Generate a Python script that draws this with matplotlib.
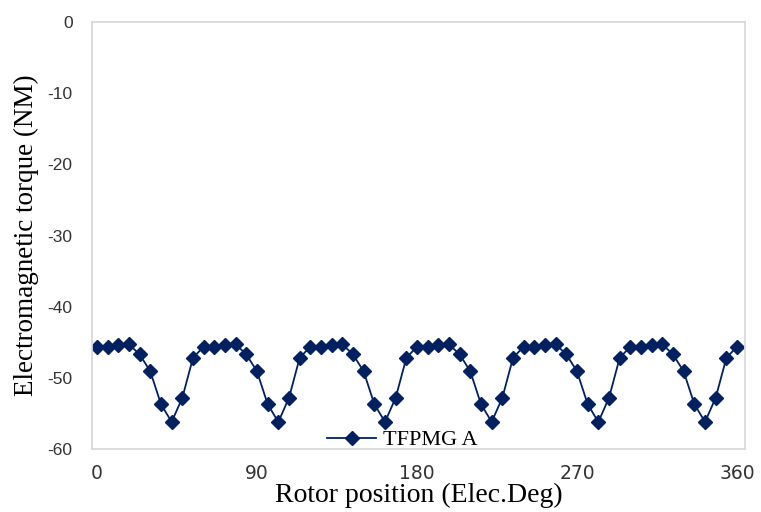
import matplotlib.pyplot as plt

plt.rcParams["axes.unicode_minus"] = False

# rotor position in electrical degrees (step 6)
position = [0, 6, 12, 18, 24, 30, 36, 42, 48, 54,
            60, 66, 72, 78, 84, 90, 96, 102, 108, 114,
            120, 126, 132, 138, 144, 150, 156, 162, 168, 174,
            180, 186, 192, 198, 204, 210, 216, 222, 228, 234,
            240, 246, 252, 258, 264, 270, 276, 282, 288, 294,
            300, 306, 312, 318, 324, 330, 336, 342, 348, 354,
            360]

torque_a = [-45.6, -45.6, -45.4, -45.3, -46.7, -49.1, -53.7, -56.2, -52.8, -47.2,
            -45.6, -45.6, -45.4, -45.3, -46.7, -49.1, -53.7, -56.2, -52.8, -47.2,
            -45.6, -45.6, -45.4, -45.3, -46.7, -49.1, -53.7, -56.2, -52.8, -47.2,
            -45.6, -45.6, -45.4, -45.3, -46.7, -49.1, -53.7, -56.2, -52.8, -47.2,
            -45.6, -45.6, -45.4, -45.3, -46.7, -49.1, -53.7, -56.2, -52.8, -47.2,
            -45.6, -45.6, -45.4, -45.3, -46.7, -49.1, -53.7, -56.2, -52.8, -47.2,
            -45.6]

x_ticks = [0, 90, 180, 270, 360]
y_ticks = [0, -10, -20, -30, -40, -50, -60]

navy = "#002060"

fig = plt.figure(figsize=(7.61, 5.12), dpi=100)
ax = fig.add_axes([0.1209, 0.123, 0.8581, 0.834])

ax.plot(position, torque_a, color=navy, linewidth=1.3, marker="D",
        markersize=7.5, label="TFPMG A")

ax.set_xlim(-2.8, 364.5)
ax.set_ylim(-60, 0)
ax.set_xticks(x_ticks)
ax.set_yticks(y_ticks)

for side in ax.spines.values():
    side.set_color("#d9d9d9")
    side.set_linewidth(1.3)

ax.tick_params(length=0)
ax.tick_params(axis="y", pad=14)
ax.tick_params(axis="x", pad=11)
for lbl in ax.get_yticklabels():
    lbl.set_fontfamily("Liberation Sans")
    lbl.set_fontsize(12.5)
    lbl.set_color("#333333")
for lbl in ax.get_xticklabels():
    lbl.set_fontfamily("DejaVu Sans")
    lbl.set_fontsize(13.5)
    lbl.set_color("#333333")

ax.set_xlabel("Rotor position (Elec.Deg)", fontfamily="Liberation Serif",
              fontsize=20, labelpad=0)
ax.set_ylabel("Electromagnetic torque (NM)", fontfamily="Liberation Serif",
              fontsize=19.5, labelpad=6)

ax.legend(loc="lower center", bbox_to_anchor=(0.475, -0.05), frameon=False,
          prop={"family": "Liberation Serif", "size": 16},
          handlelength=2.2, handletextpad=0.3)

fig.savefig("out.png", dpi=100)
